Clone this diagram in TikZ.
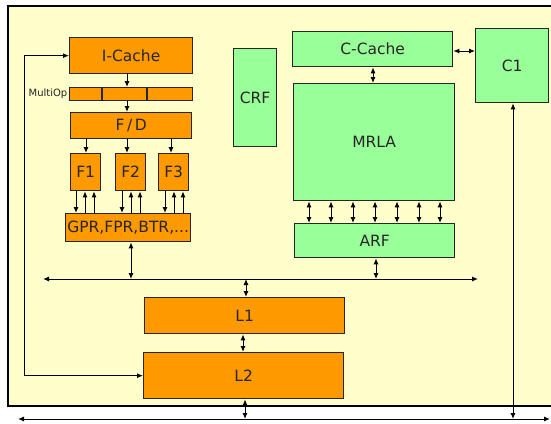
\documentclass[tikz,border=0pt]{standalone}
\usepackage{fontspec}
\setsansfont{DejaVu Sans}
\usepackage{tikz}
\usetikzlibrary{arrows.meta}

\definecolor{chipbg}{HTML}{FFFFCC}
\definecolor{unitorange}{HTML}{FF9900}
\definecolor{unitgreen}{HTML}{99FF99}

\begin{document}
\begin{tikzpicture}[x=1pt, y=-1pt,
  every node/.style={font=\sffamily\fontsize{15.5}{18}\selectfont, text=black!85},
  obox/.style={draw=black!85, line width=1.3pt, fill=unitorange, anchor=north west, inner sep=0pt},
  gbox/.style={draw=black!85, line width=1.3pt, fill=unitgreen, anchor=north west, inner sep=0pt},
  link/.style={line width=1pt, -{Latex[length=6pt,width=5pt]}},
  dlink/.style={line width=1pt, {Latex[length=6pt,width=5pt]}-{Latex[length=6pt,width=5pt]}}]

  \clip (0,0) rectangle (551,423);

  % Chip outline -----------------------------------------------------------
  \draw[line width=1.1pt, fill=chipbg] (8,6) rectangle (580,406);

  % Fetch side (orange) ----------------------------------------------------
  \node[obox, minimum width=123, minimum height=36] (icache) at (69,37) {I-Cache};
  \node[obox, minimum width=123, minimum height=13] (mop) at (69,87) {};
  \draw[draw=black!85, line width=1.3pt] (102,87) -- (102,100) (147,87) -- (147,100);
  \node[anchor=east, inner sep=1.5pt, font=\sffamily\fontsize{10}{12}\selectfont]
    (moplabel) at (mop.west) {MultiOp};
  \node[obox, minimum width=121, minimum height=26] (fd) at (70,112) {F\,/\,D};
  \node[obox, minimum width=30, minimum height=37] (f1) at (70,153) {F1};
  \node[obox, minimum width=30, minimum height=37] (f2) at (115,153) {F2};
  \node[obox, minimum width=30, minimum height=37] (f3) at (158,153) {F3};
  \node[obox, minimum width=125, minimum height=28] (gpr) at (65,213) {GPR,FPR,BTR,...};

  % Memory (orange) ---------------------------------------------------------
  \node[obox, minimum width=200, minimum height=36] (l1) at (144,297) {L1};
  \node[obox, minimum width=200, minimum height=46] (l2) at (143,352) {L2};

  % Loop accelerator side (green) -------------------------------------------
  \node[gbox, minimum width=43, minimum height=98] (crf) at (233,48) {CRF};
  \node[gbox, minimum width=160, minimum height=35] (ccache) at (292,31) {C-Cache};
  \node[gbox, minimum width=73, minimum height=74] (c1) at (475,28) {C1};
  \node[gbox, minimum width=161, minimum height=117] (mrla) at (293,83) {MRLA};
  \node[gbox, minimum width=160, minimum height=34] (arf) at (294,223) {ARF};

  % Buses --------------------------------------------------------------------
  \coordinate (busAL) at (43,279);
  \coordinate (busAR) at (478,279);
  \coordinate (busBL) at (18,419);
  \coordinate (busBR) at (550,419);
  \draw[dlink] (busAL) -- (busAR);
  \draw[dlink] (busBL) -- (busBR);

  % Fetch path ---------------------------------------------------------------
  \coordinate (t) at (127,0);
  \draw[link] (t |- icache.south) -- (t |- mop.north);
  \draw[link] (t |- mop.south) -- (t |- fd.north);
  \foreach \fu/\xx in {f1/86, f2/127, f3/171} {
    \coordinate (t) at (\xx,0);
    \draw[link] (t |- fd.south) -- (t |- \fu.north);
  }
  \foreach \fu/\xx in {f1/76, f2/122, f3/165} {
    \coordinate (t) at (\xx,0);
    \draw[link] (t |- \fu.south) -- (t |- gpr.north);
    \coordinate (t) at (\xx+9,0);
    \draw[link] (t |- gpr.north) -- (t |- \fu.south);
    \coordinate (t) at (\xx+18,0);
    \draw[link] (t |- gpr.north) -- (t |- \fu.south);
  }
  \coordinate (t) at (131,0);
  \draw[dlink] (t |- gpr.south) -- (t |- busAL);

  % Refill path L2 -> I-Cache --------------------------------------------------
  \draw[dlink] (icache.west) -- ++(-45,0) |- (l2.west);

  % Memory links ---------------------------------------------------------------
  \coordinate (t) at (246,0);
  \draw[dlink] (t |- busAL) -- (t |- l1.north);
  \coordinate (t) at (243,0);
  \draw[dlink] (t |- l1.south) -- (t |- l2.north);
  \coordinate (t) at (245,0);
  \draw[dlink] (t |- l2.south) -- (t |- busBL);

  % Accelerator links ------------------------------------------------------------
  \coordinate (t) at (0,51);
  \draw[dlink] (ccache.east |- t) -- (c1.west |- t);
  \coordinate (t) at (373,0);
  \draw[dlink] (t |- ccache.south) -- (t |- mrla.north);
  \foreach \xx in {309,331,353,375,397,419,440} {
    \coordinate (t) at (\xx,0);
    \draw[dlink] (t |- mrla.south) -- (t |- arf.north);
  }
  \coordinate (t) at (376,0);
  \draw[dlink] (t |- arf.south) -- (t |- busAL);
  \coordinate (t) at (513,0);
  \draw[dlink] (t |- c1.south) -- (t |- busBL);

\end{tikzpicture}
\end{document}
